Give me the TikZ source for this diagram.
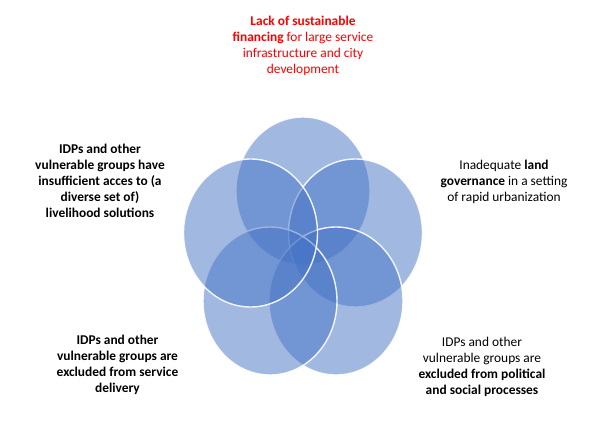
\documentclass[tikz,border=0pt]{standalone}
\usepackage{fontspec}
\setmainfont{Carlito}
\usetikzlibrary{shapes.geometric}
\definecolor{vennblue}{HTML}{4472C4}
\definecolor{txtred}{HTML}{FF0000}
\tikzset{
  venn/.style={ellipse, minimum width=134pt, minimum height=148pt, inner sep=0pt,
    fill=vennblue, fill opacity=0.5, draw=white, draw opacity=0.9, line width=1.4pt},
  lbl/.style={align=center, inner sep=0pt, text=black,
    font=\fontsize{13.4}{16}\selectfont}
}
\begin{document}
\begin{tikzpicture}[x=1pt,y=-1pt]
\useasboundingbox (0,0) rectangle (606,434);
\node[venn] (top) at (303,191) {};
\node[venn] (ur) at (355.5,233) {};
\node[venn] (lr) at (336,301) {};
\node[venn] (ll) at (270,301) {};
\node[venn] (ul) at (250.5,233) {};
\node[lbl, text=txtred] (ttop) at (303,45.5) {\textbf{Lack of sustainable}\\\textbf{financing} for large service\\infrastructure and city\\development};
\node[lbl] (tleft) at (100,181) {\textbf{IDPs and other}\\\textbf{vulnerable groups have}\\\textbf{insufficient acces to (a}\\\textbf{diverse set of)}\\\textbf{livelihood solutions}};
\node[lbl] (tright) at (504,182) {Inadequate \textbf{land}\\\textbf{governance} in a setting\\of rapid urbanization};
\node[lbl] (tll) at (117.5,365) {\textbf{IDPs and other}\\\textbf{vulnerable groups are}\\\textbf{excluded from service}\\\textbf{delivery}};
\node[lbl] (tlr) at (482,367) {IDPs and other\\vulnerable groups are\\\textbf{excluded from political}\\\textbf{and social processes}};
\end{tikzpicture}
\end{document}
